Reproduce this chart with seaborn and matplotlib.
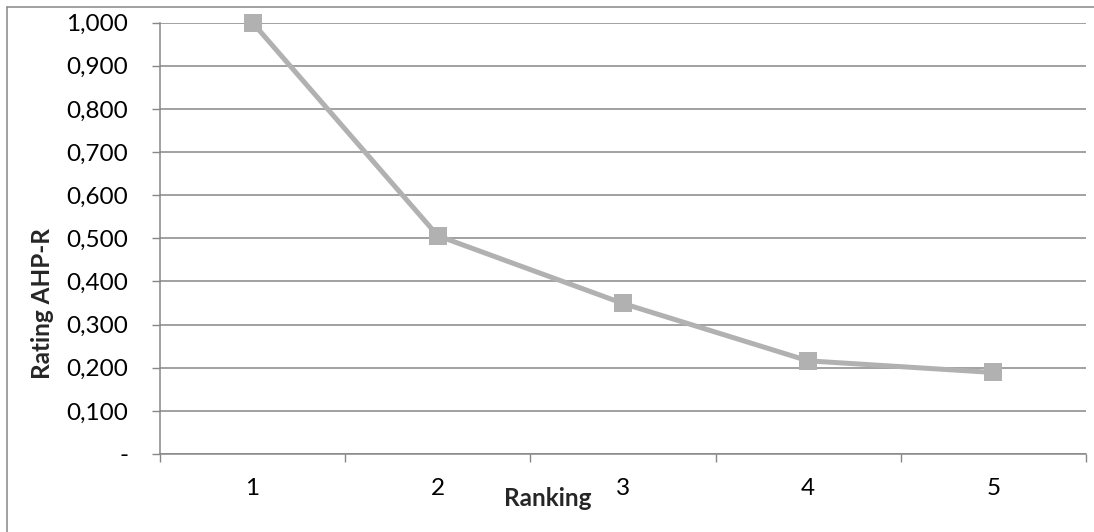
import numpy as np
import pandas as pd
import matplotlib
matplotlib.use("Agg")
import matplotlib.pyplot as plt
import matplotlib.ticker as mticker
from matplotlib.lines import Line2D
import seaborn as sns

ranking = [1, 2, 3, 4, 5]
rating = [1.000, 0.506, 0.349, 0.216, 0.189]
y_ticks = [0.0, 0.1, 0.2, 0.3, 0.4, 0.5, 0.6, 0.7, 0.8, 0.9, 1.0]

df = pd.DataFrame({"Ranking": ranking, "Rating AHP-R": rating})

sns.set_style("white")
plt.rcParams["font.family"] = ["Lato", "DejaVu Sans"]

grid_col = "#878787"
line_col = "#b1b1b1"
fs = 17.5

fig = plt.figure(figsize=(10.94, 5.32), dpi=100)
ax = fig.add_axes([160 / 1094, 1 - 454 / 532, 926 / 1094, (454 - 22.7) / 532])

sns.lineplot(data=df, x="Ranking", y="Rating AHP-R", ax=ax, color=line_col,
             linewidth=3.6, marker="s", markersize=13.5, markeredgewidth=0,
             markerfacecolor=line_col, zorder=3, clip_on=False)

ax.set_xlim(0.5, 5.5)
ax.set_ylim(0, 1.0)

# y axis
ax.set_yticks(y_ticks)
ax.yaxis.set_major_formatter(mticker.FuncFormatter(
    lambda v, p: "-" if abs(v) < 1e-9 else f"{v:.3f}".replace(".", ",")))
ax.grid(axis="y", color=grid_col, linewidth=1.1)
ax.tick_params(axis="y", which="major", length=5.8, width=1, color=grid_col,
               pad=17, labelsize=fs, labelcolor="black", direction="out", left=True)

# x axis: ticks between categories, labels at categories
ax.set_xticks(np.arange(0.5, 6.0, 1.0))
ax.xaxis.set_major_formatter(mticker.NullFormatter())
ax.set_xticks(ranking, minor=True)
ax.set_xticklabels([str(r) for r in ranking], minor=True)
ax.tick_params(axis="x", which="major", length=5.8, width=1, color=grid_col,
               direction="out", bottom=True)
ax.tick_params(axis="x", which="minor", length=0, pad=17, labelsize=fs,
               labelcolor="black")

for s in ["top", "right"]:
    ax.spines[s].set_visible(False)
for s in ["left", "bottom"]:
    ax.spines[s].set_color(grid_col)
    ax.spines[s].set_linewidth(1.1)

ax.set_xlabel("Ranking", fontsize=fs, fontweight="bold")
ax.xaxis.set_label_coords((548 - 160) / 926, (454 - 499) / 431.3)
ax.xaxis.label.set_va("center")
ax.set_ylabel("Rating AHP-R", fontsize=fs, fontweight="bold")
ax.yaxis.set_label_coords((43 - 160) / 926, (454 - 304) / 431.3)
ax.yaxis.label.set_va("center")

# chart border (top and left visible)
fig.add_artist(Line2D([7.3 / 1094, 1.0], [1 - 6.7 / 532] * 2, color=grid_col,
                      linewidth=1.1, transform=fig.transFigure))
fig.add_artist(Line2D([7.3 / 1094] * 2, [0.0, 1 - 6.7 / 532], color=grid_col,
                      linewidth=1.1, transform=fig.transFigure))

fig.savefig("out.png", dpi=100)
